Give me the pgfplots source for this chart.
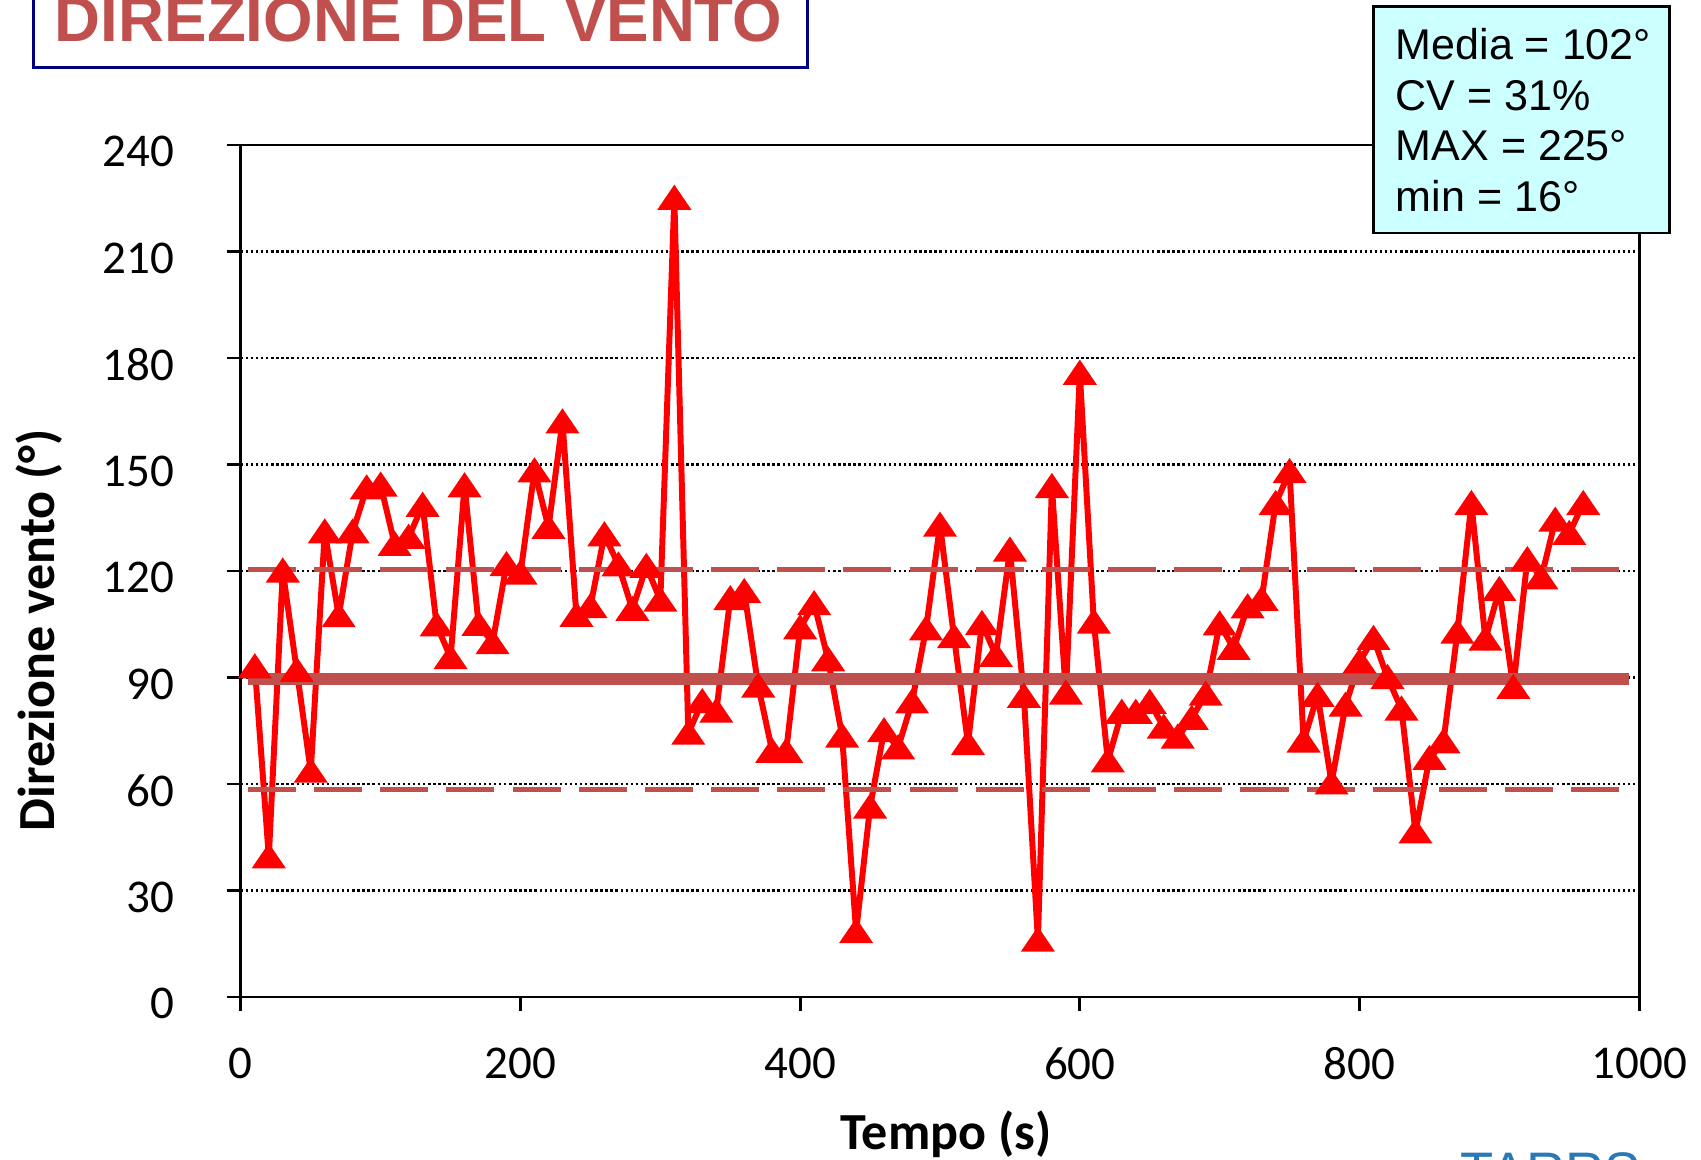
\documentclass[border=0pt]{standalone}
\usepackage{pgfplots}
\pgfplotsset{compat=1.18}
\usepackage{fontspec}
\setmainfont{Carlito}
\newfontfamily\arial{Liberation Sans}
\definecolor{dred}{HTML}{C0504D}
\definecolor{navy}{HTML}{000080}
\definecolor{boxcyan}{HTML}{CCFFFF}
\definecolor{logoblue}{HTML}{2A78B4}
\pgfplotstableread{
t v
10 93
20 39.5
30 120
40 92
50 63.6
60 131
70 107.4
80 131
90 143.4
100 144.2
110 127.5
120 129.5
130 138.5
140 104.8
150 95.6
160 144
170 105
180 99.8
190 121.8
200 119.4
210 148.2
220 132.3
230 162
240 107.5
250 110
260 130.2
270 121.7
280 109.2
290 121.3
300 111.8
310 225
320 74.3
330 83.2
340 80.5
350 112.2
360 114.2
370 87.6
380 69.2
390 69.2
400 104
410 110.8
420 95
430 73.5
440 18.4
450 53.5
460 75
470 70.2
480 83.1
490 103.7
500 132.9
510 101.5
520 71.4
530 105.2
540 96.2
550 125.9
560 84.7
570 16
580 143.8
590 85.6
600 175.7
610 105.6
620 66.5
630 80.2
640 80.2
650 83
660 76
670 73.2
680 78.5
690 85.3
700 105.1
710 98.2
720 109.9
730 112
740 139
750 148
760 72.1
770 85
780 60.3
790 82.2
800 94.4
810 101
820 90
830 81.1
840 46.5
850 67.2
860 71.9
870 102.8
880 139
890 100.8
900 114.8
910 87.2
920 123.2
930 118.1
940 134.3
950 130.6
960 139
}\datatable
\begin{document}
\begin{tikzpicture}
\useasboundingbox (0,0) rectangle (470.4pt,320.7pt);
\begin{axis}[
  at={(66.6pt,45pt)}, anchor=south west,
  scale only axis, width=386.7pt, height=235.6pt,
  xmin=0, xmax=1000, ymin=0, ymax=240,
  xtick={0,200,...,1000}, ytick={0,30,...,240},
  xtick pos=left, ytick pos=left,
  tick align=outside, major tick length=3.9pt,
  axis line style={line width=0.8pt},
  every tick/.style={black, line width=0.8pt},
  ymajorgrids,
  grid style={black, line width=0.65pt, dash pattern=on 0.65pt off 0.75pt},
  tick label style={font=\fontsize{13}{14}\selectfont},
  /pgf/number format/assume math mode=true,
  /pgf/number format/1000 sep={},
  yticklabel style={xshift=-11pt, yshift=-1.9pt},
  xticklabel style={yshift=-6.6pt},
  clip=false,
]
\addplot[red, line width=1.65pt, line join=round, mark=triangle*, mark size=4.8pt,
  mark options={solid, fill=red, line width=0.6pt, line join=miter, yscale=0.85, yshift=-1pt}]
  table[x=t, y=v] {\datatable};
\addplot[dred, line width=3.3pt] coordinates {(5,89.5) (993,89.5)};
\addplot[dred, line width=1.4pt, dash pattern=on 13.3pt off 5pt] coordinates {(5,120.5) (993,120.5)};
\addplot[dred, line width=1.4pt, dash pattern=on 13.3pt off 5pt] coordinates {(5,58.5) (993,58.5)};
\end{axis}
\begin{scope}[x=0.3pt, y=-0.3pt, shift={(0,320.7pt)}]
  \draw[navy, line width=0.9pt, fill=white] (31,-40) rectangle (744,62);
  \node[anchor=base west, inner sep=0, text=dred, font=\arial\bfseries\fontsize{17.6}{20}\selectfont] at (50,38) {DIREZIONE DEL VENTO};
  \draw[black, line width=0.7pt, fill=boxcyan] (1266,6) rectangle (1539,215);
  \begin{scope}[every node/.style={anchor=base west, inner sep=0, font=\arial\fontsize{11.9}{13}\selectfont}]
    \node at (1286,55) {Media = 102°};
    \node at (1286,102) {CV = 31\%};
    \node at (1286,148) {MAX = 225°};
    \node at (1286,195) {min = 16°};
  \end{scope}
  \node[anchor=base, inner sep=0, font=\bfseries\fontsize{14.4}{17}\selectfont] at (872,1060) {Tempo (s)};
  \node[rotate=90, anchor=base, inner sep=0, font=\bfseries\fontsize{14.4}{17}\selectfont] at (50,581) {Direzione vento (°)};
  \node[anchor=base west, inner sep=0, text=logoblue, font=\arial\fontsize{15}{18}\selectfont] at (1346,1097) {TARRS};
\end{scope}
\end{tikzpicture}
\end{document}
